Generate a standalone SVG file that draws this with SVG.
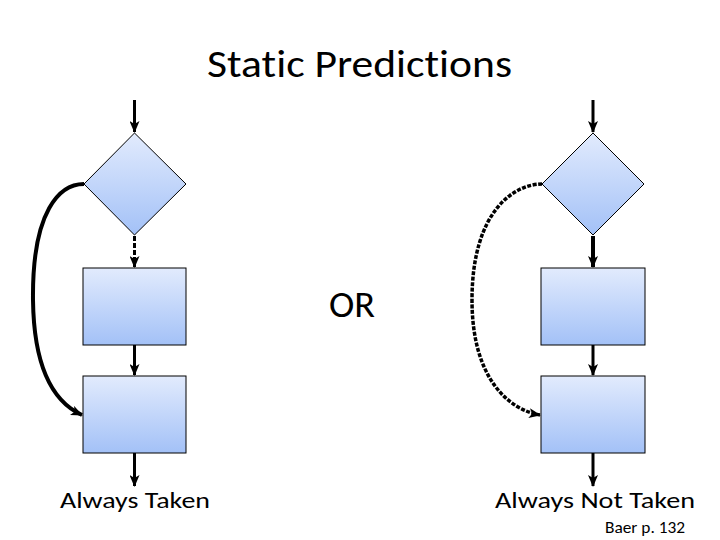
<svg xmlns="http://www.w3.org/2000/svg" width="720" height="540" viewBox="0 0 720 540">
<defs>
<linearGradient id="g" x1="0" y1="0" x2="0" y2="1">
<stop offset="0" stop-color="#e2ebfd"/>
<stop offset="1" stop-color="#a3c1f7"/>
</linearGradient>
<marker id="ah" viewBox="0 0 12 10" refX="11" refY="5" markerWidth="12" markerHeight="10" orient="auto" markerUnits="userSpaceOnUse">
<path d="M0,0 L12,5 L0,10 L3,5 Z" fill="#000"/>
</marker>
</defs>
<style>
.n{fill:url(#g);stroke:#000;stroke-width:1}
.c{fill:none;stroke:#000;stroke-linecap:butt}
.t{font-family:"Carlito","Open Sans","Liberation Sans",sans-serif;fill:#000;font-variant-ligatures:none}
</style>
<rect width="720" height="540" fill="#fff"/>
<text class="t" x="207" y="77" font-size="38" textLength="305" lengthAdjust="spacingAndGlyphs">Static Predictions</text>
<text class="t" x="329" y="317" font-size="36" textLength="46" lengthAdjust="spacingAndGlyphs">OR</text>
<text class="t" x="60" y="508" font-size="23" textLength="150" lengthAdjust="spacingAndGlyphs">Always Taken</text>
<text class="t" x="495" y="508" font-size="23" textLength="200" lengthAdjust="spacingAndGlyphs">Always Not Taken</text>
<text class="t" x="605" y="533" font-size="16" textLength="80" lengthAdjust="spacingAndGlyphs">Baer p. 132</text>
<g id="left-diamond"><polygon class="n" points="134.5,133 186,184 134.5,235 84,184"/></g>
<g id="left-box1"><rect class="n" x="83" y="268" width="103" height="77"/></g>
<g id="left-box2"><rect class="n" x="83" y="376" width="103" height="77"/></g>
<g id="right-diamond"><polygon class="n" points="593,133 644,184 593,235 542,184"/></g>
<g id="right-box1"><rect class="n" x="541" y="268" width="104" height="77"/></g>
<g id="right-box2"><rect class="n" x="541" y="376" width="104" height="77"/></g>
<g id="connectors">
<line class="c" x1="134.5" y1="100" x2="134.5" y2="132" stroke-width="3" marker-end="url(#ah)"/>
<line class="c" x1="134.5" y1="236" x2="134.5" y2="267" stroke-width="3" stroke-dasharray="5,2" marker-end="url(#ah)"/>
<line class="c" x1="134.5" y1="345" x2="134.5" y2="375" stroke-width="3" marker-end="url(#ah)"/>
<line class="c" x1="134.5" y1="453" x2="134.5" y2="486" stroke-width="3" marker-end="url(#ah)"/>
<path class="c" d="M84,184 C60,184 32,210 33,300 C34,380 60,405 82,415" stroke-width="4" marker-end="url(#ah)"/>
<line class="c" x1="593" y1="100" x2="593" y2="132" stroke-width="3" marker-end="url(#ah)"/>
<line class="c" x1="593" y1="236" x2="593" y2="267" stroke-width="4" marker-end="url(#ah)"/>
<line class="c" x1="593" y1="345" x2="593" y2="375" stroke-width="3" marker-end="url(#ah)"/>
<line class="c" x1="593" y1="453" x2="593" y2="486" stroke-width="3" marker-end="url(#ah)"/>
<path class="c" d="M542,184 C515,184 472,210 472,300 C472,380 510,410 540,415" stroke-width="3.5" stroke-dasharray="4,1.5" marker-end="url(#ah)"/>
</g>
</svg>
